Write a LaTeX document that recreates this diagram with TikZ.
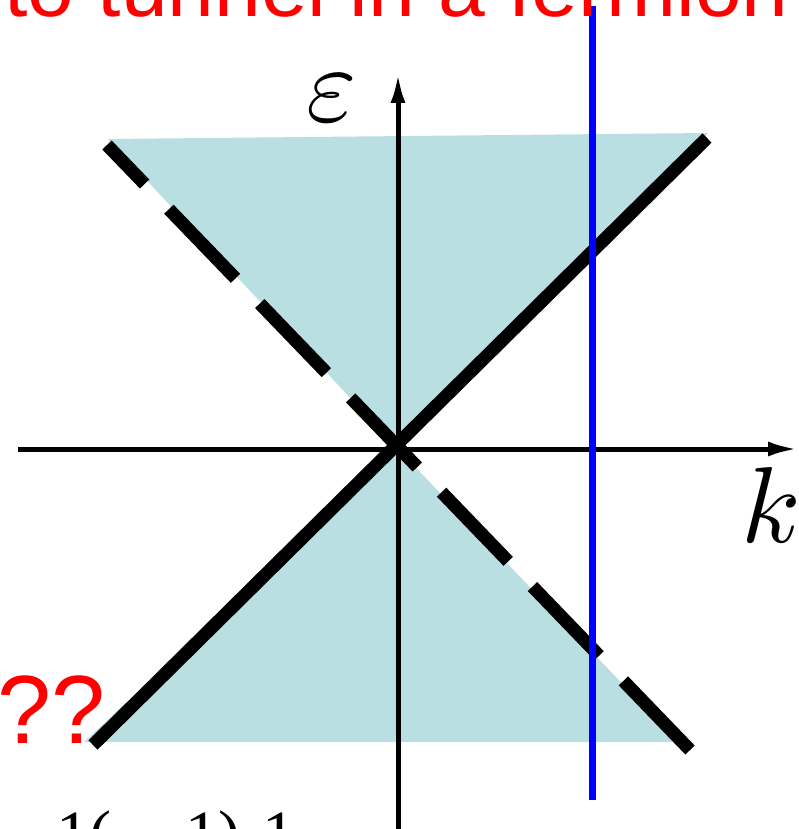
\documentclass[tikz,border=0pt]{standalone}
\usepackage{fontspec}
\usepackage{unicode-math}
\newfontfamily\slidesans{Liberation Sans}
\newfontfamily\slideserif{Liberation Serif}
\usetikzlibrary{arrows.meta}
\definecolor{conefill}{RGB}{186,223,227}
\tikzset{
    axis/.style={line width=5pt,-{Latex[length=30pt,width=15pt]}},
    branch/.style={line width=13pt},
    redtext/.style={text=red,inner sep=0pt,font=\slidesans\fontsize{#1}{#1}\selectfont},
    mathlabel/.style={inner sep=0pt,font=\fontsize{108}{108}\selectfont}
}
\begin{document}
\begin{tikzpicture}[x=1pt,y=-1pt]
                \useasboundingbox (0,0) rectangle (798,829);
                \coordinate (O) at (398,449);
                \coordinate (ul) at (108,139);
                \coordinate (ur) at (708,133);
                \coordinate (ll) at (84,742);
                \coordinate (lr) at (678,742);
                \fill[conefill] (ul) -- (ur) -- (O) -- cycle;
                \fill[conefill] (ll) -- (lr) -- (O) -- cycle;
                \coordinate (dashend) at (690,750);
                \coordinate (dashstart) at (107,145);
                \coordinate (solidend) at (93,745);
                \coordinate (solidstart) at (707,138);
                \draw[branch, dash pattern=on 96pt off 35pt] (dashend) -- (dashstart);
                \draw[branch] (solidend) -- (solidstart);
                \coordinate (kfrom) at (18,449);
                \coordinate (kto) at (798,449);
                \coordinate (efrom) at (398,835);
                \coordinate (eto) at (398,73);
                \draw[axis] (kfrom) -- (kto);
                \draw[axis] (efrom) -- (eto);
                \coordinate (cutbottom) at (592,800);
                \coordinate (cuttop) at (592,6);
                \draw[blue, line width=7pt] (cutbottom) -- (cuttop);
                \node[mathlabel] (eps) at (332,98) {$\varepsilon$};
                \node[mathlabel] (kay) at (770,506) {$k$};
                \node[redtext=84, anchor=base east] (title) at (789,17) {to tunnel in a fermion};
                \node[redtext=97, anchor=base west] (query) at (-3,743) {??};
                \node[anchor=base west, inner sep=0pt, font=\slideserif\fontsize{66}{66}\selectfont] (fracA) at (56,856) {1(};
                \node[anchor=base west, inner sep=0pt, font=\slideserif\fontsize{66}{66}\selectfont] (fracB) at (185,856) {1)};
                \node[anchor=base west, inner sep=0pt, font=\slideserif\fontsize{66}{66}\selectfont] (fracC) at (262,856) {1};
            \end{tikzpicture}
\end{document}
